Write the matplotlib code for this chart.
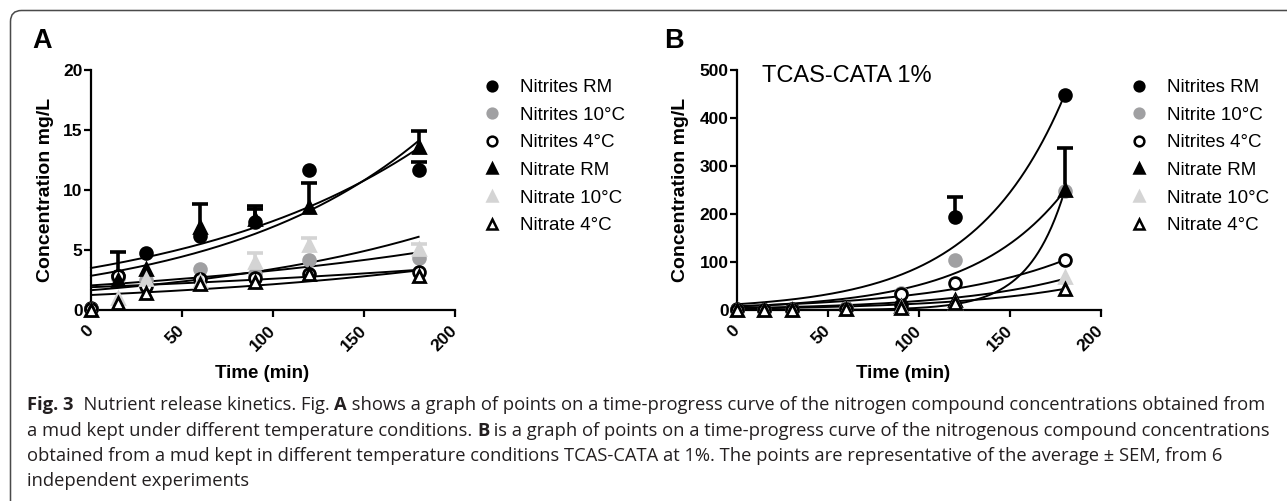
import numpy as np
import matplotlib
matplotlib.use('Agg')
import matplotlib.pyplot as plt
from matplotlib.lines import Line2D
from matplotlib.patches import FancyBboxPatch

# ---------------- data ----------------
time_min = [0, 15, 30, 60, 90, 120, 180]
x_ticks = [0, 50, 100, 150, 200]
y_ticks_a = [0, 5, 10, 15, 20]
y_ticks_b = [0, 100, 200, 300, 400, 500]

labels_a = ['Nitrites RM', 'Nitrites 10°C', 'Nitrites 4°C',
            'Nitrate RM', 'Nitrate 10°C', 'Nitrate 4°C']
labels_b = ['Nitrites RM', 'Nitrite 10°C', 'Nitrites 4°C',
            'Nitrate RM', 'Nitrate 10°C', 'Nitrate 4°C']

# Panel A means (mg/L)
a_nitrites_rm = [0.2, 2.8, 4.75, 6.2, 7.35, 11.7, 11.7]
a_nitrites_10 = [0.1, 2.7, 2.5, 3.4, 3.0, 4.2, 4.3]
a_nitrites_4 = [0.1, 2.8, 2.0, 2.6, 2.7, 3.0, 3.2]
a_nitrate_rm = [0.0, 2.5, 3.4, 6.9, 7.6, 8.6, 13.6]
a_nitrate_10 = [0.0, 1.0, 2.6, 2.4, 4.0, 5.4, 5.1]
a_nitrate_4 = [0.0, 0.55, 1.4, 2.2, 2.3, 3.0, 2.8]
# Panel A upper SEM
a_sem_nitrites_rm = [0, 2.0, 0, 0, 1.3, 0, 0.6]
a_sem_nitrites_10 = [0, 0, 0, 0, 0, 0, 0]
a_sem_nitrites_4 = [0, 0, 0, 0, 0, 0, 0]
a_sem_nitrate_rm = [0, 0, 0, 1.9, 0.8, 2.0, 1.3]
a_sem_nitrate_10 = [0, 0, 0, 0, 0.75, 0.6, 0.4]
a_sem_nitrate_4 = [0, 0, 0, 0, 0, 0, 0]
# Panel A exponential fit curves: value at t=0 and at t=180
a_fit_start = [3.5, 2.05, 1.9, 2.85, 1.65, 1.25]
a_fit_end = [13.5, 4.8, 3.35, 14.1, 6.1, 3.3]

# Panel B means (mg/L)
b_nitrites_rm = [2, 1, 2, 5, 10, 194, 448]
b_nitrites_10 = [1, 1, 1, 4, 35, 104, 248]
b_nitrites_4 = [1, 1, 1, 3, 33, 56, 104]
b_nitrate_rm = [0, 0, 0, 2, 8, 20, 250]
b_nitrate_10 = [0, 0, 0, 2, 6, 15, 69]
b_nitrate_4 = [0, 0, 0, 2, 5, 14, 44]
# Panel B upper SEM
b_sem_nitrites_rm = [0, 0, 0, 0, 0, 42, 0]
b_sem_nitrites_10 = [0, 0, 0, 0, 0, 0, 0]
b_sem_nitrites_4 = [0, 0, 0, 0, 0, 0, 0]
b_sem_nitrate_rm = [0, 0, 0, 0, 0, 0, 87]
b_sem_nitrate_10 = [0, 0, 0, 0, 0, 0, 0]
b_sem_nitrate_4 = [0, 0, 0, 0, 0, 0, 0]
# Panel B exponential fit curves: value at t=0 and at t=180
b_fit_start = [12, 7.4, 8, 0.03, 4, 3]
b_fit_end = [448, 248, 104, 248, 65, 44]

caption_lines = [
    [('Fig. 3', 'bold'), ('  Nutrient release kinetics. Fig. ', 'normal'), ('A', 'bold'),
     (' shows a graph of points on a time-progress curve of the nitrogen compound concentrations obtained from', 'normal')],
    [('a mud kept under different temperature conditions. ', 'normal'), ('B', 'bold'),
     (' is a graph of points on a time-progress curve of the nitrogenous compound concentrations', 'normal')],
    [('obtained from a mud kept in different temperature conditions TCAS-CATA at 1%. The points are representative of the average ± SEM, from 6', 'normal')],
    [('independent experiments', 'normal')],
]

# ---------------- styles ----------------
BLACK = '#000000'
GREY = '#a0a0a2'
LIGHT = '#d4d4d4'
styles = [
    dict(marker='o', mfc=BLACK, mec=BLACK, ecol=BLACK),
    dict(marker='o', mfc=GREY, mec=GREY, ecol=GREY),
    dict(marker='o', mfc='white', mec=BLACK, ecol=BLACK),
    dict(marker='^', mfc=BLACK, mec=BLACK, ecol=BLACK),
    dict(marker='^', mfc=LIGHT, mec=LIGHT, ecol=LIGHT),
    dict(marker='^', mfc='white', mec=BLACK, ecol=BLACK),
]

W, H = 1287, 501
fig = plt.figure(figsize=(W / 100, H / 100), dpi=100)


def fx(px):
    return px / W


def fy(py):
    return 1 - py / H


TICKFONT = dict(family='Liberation Sans', weight='bold', size=12.5)


def style_axes(ax, ymax, yticks):
    ax.set_xlim(0, 200)
    ax.set_ylim(0, ymax)
    for s in ['top', 'right']:
        ax.spines[s].set_visible(False)
    for s in ['left', 'bottom']:
        ax.spines[s].set_linewidth(1.6)
    ax.set_xticks(x_ticks)
    ax.set_yticks(yticks)
    ax.tick_params(direction='out', length=5, width=1.6, pad=1)
    ax.set_yticklabels([str(v) for v in yticks], fontdict=TICKFONT)
    ax.set_xticklabels([str(v) for v in x_ticks], fontdict=TICKFONT,
                       rotation=45, ha='right', va='center', rotation_mode='anchor')
    ax.tick_params(axis='x', pad=8)
    ax.patch.set_alpha(0)


def draw_panel(ax, series, sems, fit_start, fit_end):
    t = np.array(time_min, dtype=float)
    tt = np.linspace(0, 180, 300)
    for y0, y1 in zip(fit_start, fit_end):
        yy = y0 * (y1 / y0) ** (tt / 180.0)
        ax.plot(tt, yy, color='black', lw=1.4, zorder=3, clip_on=False)
    for vals, sem, st in zip(series, sems, styles):
        v = np.array(vals, dtype=float)
        e = np.array(sem, dtype=float)
        m = e > 0
        if m.any():
            ax.vlines(t[m], v[m], v[m] + e[m], color=st['ecol'], lw=2.6, zorder=4, clip_on=False)
            ax.plot(t[m], v[m] + e[m], ls='none', marker='_', ms=12, mew=2.6,
                    color=st['ecol'], zorder=4, clip_on=False)
        ax.plot(t, v, ls='none', marker=st['marker'], ms=8.5, mfc=st['mfc'], mec=st['mec'],
                mew=2.0, zorder=5, clip_on=False)


axA = fig.add_axes([fx(91), fy(310), 364 / W, 240 / H])
axB = fig.add_axes([fx(737), fy(310), 364 / W, 240 / H])
style_axes(axA, 20, y_ticks_a)
style_axes(axB, 500, y_ticks_b)

draw_panel(axA,
           [a_nitrites_rm, a_nitrites_10, a_nitrites_4, a_nitrate_rm, a_nitrate_10, a_nitrate_4],
           [a_sem_nitrites_rm, a_sem_nitrites_10, a_sem_nitrites_4, a_sem_nitrate_rm, a_sem_nitrate_10, a_sem_nitrate_4],
           a_fit_start, a_fit_end)
draw_panel(axB,
           [b_nitrites_rm, b_nitrites_10, b_nitrites_4, b_nitrate_rm, b_nitrate_10, b_nitrate_4],
           [b_sem_nitrites_rm, b_sem_nitrites_10, b_sem_nitrites_4, b_sem_nitrate_rm, b_sem_nitrate_10, b_sem_nitrate_4],
           b_fit_start, b_fit_end)

XLABELFONT = dict(family='Liberation Sans', weight='bold', size=13.5)
YLABELFONT = dict(family='Liberation Sans', weight='bold', size=14)
for ax, xc in [(axA, 0.47), (axB, 0.456)]:
    ax.set_xlabel('Time (min)', fontdict=XLABELFONT)
    ax.xaxis.set_label_coords(xc, -0.229)
    ax.set_ylabel('Concentration mg/L', fontdict=YLABELFONT)
axA.yaxis.set_label_coords((54 - 91) / 364, 0.5)
axB.yaxis.set_label_coords((689 - 737) / 364, 0.5)

fig.text(fx(762), fy(76), 'TCAS-CATA 1%', fontsize=17, family='Liberation Sans',
         va='center', ha='left')

# panel letters
fig.text(fx(42), fy(41), 'A', fontsize=19.5, weight='bold', family='Liberation Sans',
         ha='center', va='center')
fig.text(fx(674), fy(41), 'B', fontsize=19.5, weight='bold', family='Liberation Sans',
         ha='center', va='center')


# legends
def handles():
    hs = []
    for st in styles:
        hs.append(Line2D([], [], ls='none', marker=st['marker'], ms=7, mfc=st['mfc'],
                         mec=st['mec'], mew=1.8))
    return hs


for ax, labels, x0 in [(axA, labels_a, 484.5), (axB, labels_b, 1131.5)]:
    ax.legend(handles(), labels, loc='upper left',
              bbox_to_anchor=(fx(x0), fy(79)), bbox_transform=fig.transFigure,
              frameon=False, handlelength=0.8, handletextpad=1.1,
              labelspacing=0.56, borderpad=0, borderaxespad=0,
              prop=dict(family='Liberation Sans', size=13.5))

# border with rounded top-left corner (extends past right and bottom edges)
border = FancyBboxPatch((fx(10.5), fy(540)), fx(1340) - fx(10.5), fy(10.5) - fy(540),
                        boxstyle='round,pad=0,rounding_size=%f' % (11.0 / W),
                        transform=fig.transFigure, fill=False, lw=1.1,
                        edgecolor='#4a4a4a', mutation_aspect=W / H)
fig.add_artist(border)

# caption
renderer = fig.canvas.get_renderer()
CAPFAMILY = 'Open Sans'


def seg_width(s, weight, size):
    t1 = fig.text(0, 0, s + '|', family=CAPFAMILY, weight=weight, size=size)
    t2 = fig.text(0, 0, '|', family=CAPFAMILY, weight=weight, size=size)
    w = t1.get_window_extent(renderer).width - t2.get_window_extent(renderer).width
    t1.remove()
    t2.remove()
    return w


def place_caption(size):
    arts = []
    baselines = [410, 435.5, 461, 486.5]
    for segs, base in zip(caption_lines, baselines):
        xpx = 27.0
        for s, wgt in segs:
            t = fig.text(fx(xpx), fy(base), s, family=CAPFAMILY, weight=wgt, size=size,
                         va='baseline', ha='left', color='#231f20')
            arts.append(t)
            xpx += seg_width(s, wgt, size)
    return arts


cap_size = 11.5
target_right = 1263.0
for _ in range(3):
    arts = place_caption(cap_size)
    n1 = len(caption_lines[0])
    right = arts[n1 - 1].get_window_extent(renderer).x1
    for a in arts:
        a.remove()
    cap_size *= (target_right - 27.0) / (right - 27.0)
place_caption(cap_size)

fig.savefig('out.png', dpi=100)
